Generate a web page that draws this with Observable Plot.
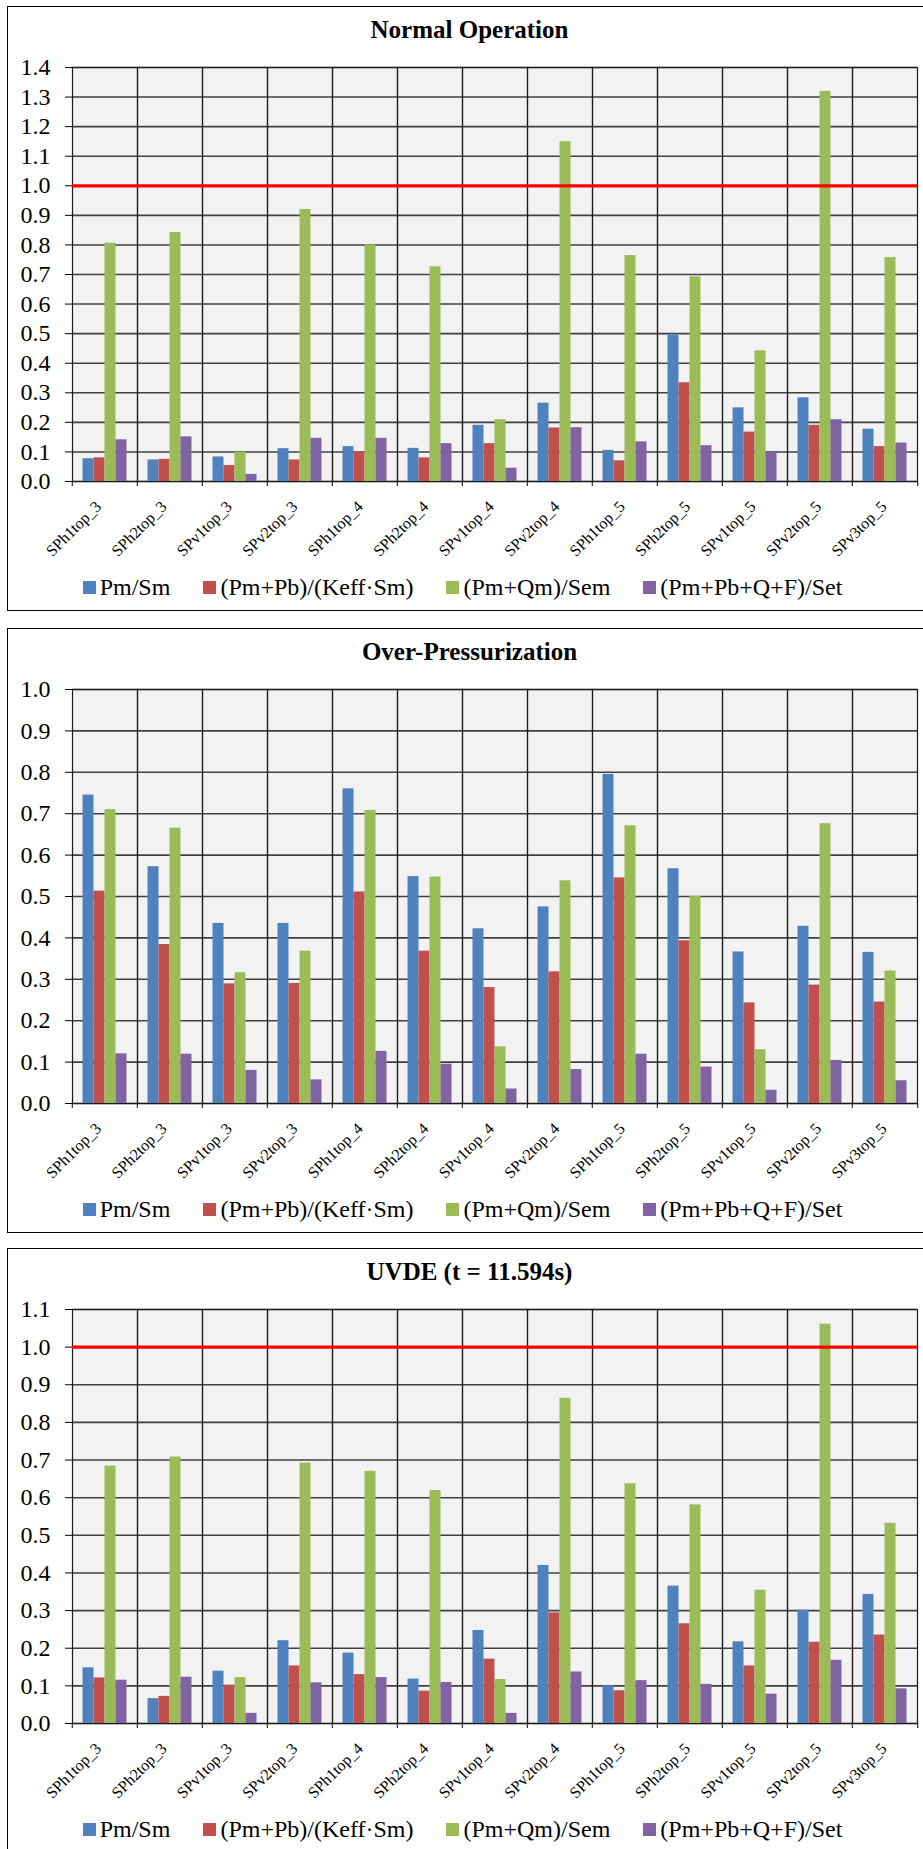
<!DOCTYPE html>
<html>
<head>
<meta charset="utf-8">
<script src="https://cdn.jsdelivr.net/npm/d3@7"></script>
<script src="https://cdn.jsdelivr.net/npm/@observablehq/plot@0.6"></script>
<style>
  html, body { margin: 0; padding: 0; background: #fff; overflow: hidden; }
  body { width: 923px; height: 1849px; position: relative; font-family: "Liberation Serif", "Times New Roman", serif; color: #000; }
  .panel { position: absolute; left: 7px; width: 923px; height: 603px; border: 1px solid #000; background: #fff; }
  .title { position: absolute; left: 0; right: 0; top: 10px; text-align: center; font-weight: bold; font-size: 25px; line-height: 25px; }
  .chart { position: absolute; left: 0; top: 34px; }
  .legend { position: absolute; left: 74.7px; top: 568px; display: flex; align-items: center; gap: 33px; font-size: 24px; line-height: 24px; white-space: nowrap; }
  .item { display: flex; align-items: center; }
  .swatch { width: 13px; height: 13px; margin-right: 4px; }
  svg [aria-label^="y-axis"] text { font-size: 24px; }
  svg [aria-label^="fx-axis"] text { font-size: 16px; }
</style>
</head>
<body>
<script>
// Stress locations along the support structure
const categories = [
  "SPh1top_3", "SPh2top_3", "SPv1top_3", "SPv2top_3",
  "SPh1top_4", "SPh2top_4", "SPv1top_4", "SPv2top_4",
  "SPh1top_5", "SPh2top_5", "SPv1top_5", "SPv2top_5", "SPv3top_5"
];

// Stress ratio criteria
const seriesNames = ["Pm/Sm", "(Pm+Pb)/(Keff·Sm)", "(Pm+Qm)/Sem", "(Pm+Pb+Q+F)/Set"];
const seriesColors = ["#4F81BD", "#C0504D", "#9BBB59", "#8064A2"];

// Normal Operation
const normalPmSm     = [0.077, 0.073, 0.083, 0.111, 0.118, 0.112, 0.190, 0.265, 0.105, 0.495, 0.249, 0.283, 0.177];
const normalPmPbKeff = [0.080, 0.075, 0.054, 0.073, 0.100, 0.080, 0.128, 0.181, 0.070, 0.334, 0.167, 0.190, 0.118];
const normalPmQm     = [0.806, 0.842, 0.099, 0.920, 0.800, 0.726, 0.209, 1.149, 0.764, 0.692, 0.442, 1.319, 0.757];
const normalTotal    = [0.141, 0.151, 0.024, 0.146, 0.146, 0.128, 0.045, 0.182, 0.134, 0.121, 0.097, 0.209, 0.130];

// Over-Pressurization
const overPmSm     = [0.745, 0.572, 0.435, 0.435, 0.760, 0.548, 0.422, 0.475, 0.795, 0.567, 0.366, 0.428, 0.365];
const overPmPbKeff = [0.513, 0.384, 0.289, 0.290, 0.511, 0.368, 0.280, 0.318, 0.545, 0.393, 0.243, 0.286, 0.245];
const overPmQm     = [0.710, 0.665, 0.316, 0.368, 0.708, 0.547, 0.137, 0.538, 0.671, 0.500, 0.130, 0.676, 0.320];
const overTotal    = [0.120, 0.119, 0.080, 0.057, 0.126, 0.095, 0.035, 0.082, 0.119, 0.088, 0.032, 0.104, 0.055];

// UVDE (t = 11.594s)
const uvdePmSm     = [0.148, 0.066, 0.139, 0.220, 0.187, 0.118, 0.247, 0.420, 0.100, 0.365, 0.217, 0.301, 0.343];
const uvdePmPbKeff = [0.121, 0.072, 0.102, 0.153, 0.130, 0.086, 0.171, 0.294, 0.087, 0.265, 0.153, 0.216, 0.235];
const uvdePmQm     = [0.684, 0.708, 0.122, 0.692, 0.670, 0.619, 0.117, 0.864, 0.637, 0.581, 0.354, 1.061, 0.532];
const uvdeTotal    = [0.115, 0.123, 0.027, 0.108, 0.122, 0.109, 0.027, 0.137, 0.114, 0.104, 0.078, 0.168, 0.092];

// Value axis ticks
const ticksNormal = [0.0, 0.1, 0.2, 0.3, 0.4, 0.5, 0.6, 0.7, 0.8, 0.9, 1.0, 1.1, 1.2, 1.3, 1.4];
const ticksOver   = [0.0, 0.1, 0.2, 0.3, 0.4, 0.5, 0.6, 0.7, 0.8, 0.9, 1.0];
const ticksUvde   = [0.0, 0.1, 0.2, 0.3, 0.4, 0.5, 0.6, 0.7, 0.8, 0.9, 1.0, 1.1];

// Allowable ratio
const limitValue = 1.0;

const panels = [
  {title: "Normal Operation", top: 6, series: [normalPmSm, normalPmPbKeff, normalPmQm, normalTotal], ticks: ticksNormal, limit: true},
  {title: "Over-Pressurization", top: 628, series: [overPmSm, overPmPbKeff, overPmQm, overTotal], ticks: ticksOver, limit: false},
  {title: "UVDE (t = 11.594s)", top: 1248, series: [uvdePmSm, uvdePmPbKeff, uvdePmQm, uvdeTotal], ticks: ticksUvde, limit: true}
];

const W = 923, H = 530, mTop = 26, mBottom = 90, mLeft = 60.5, mRight = 11.5;
const bandW = (W - mLeft - mRight) / categories.length;

// Shift an svg element by a screen-space offset, whatever transforms its parents carry
function nudge(el, dx, dy) {
  const m = el.parentNode.getScreenCTM();
  let lx = dx, ly = dy;
  if (m) {
    const inv = m.inverse();
    lx = inv.a * dx + inv.c * dy;
    ly = inv.b * dx + inv.d * dy;
  }
  const prev = el.getAttribute("transform") || "";
  el.setAttribute("transform", `translate(${lx},${ly}) ${prev}`);
}

for (const p of panels) {
  const panel = document.createElement("div");
  panel.className = "panel";
  panel.style.top = p.top + "px";
  document.body.appendChild(panel);

  const title = document.createElement("div");
  title.className = "title";
  title.textContent = p.title;
  panel.appendChild(title);

  const rows = [];
  categories.forEach((cat, i) => {
    seriesNames.forEach((s, j) => rows.push({cat, series: s, value: p.series[j][i]}));
  });

  const yMax = p.ticks[p.ticks.length - 1];

  const chart = Plot.plot({
    width: W,
    height: H,
    marginTop: mTop,
    marginBottom: mBottom,
    marginLeft: mLeft,
    marginRight: mRight,
    style: {background: "transparent", fontFamily: "'Liberation Serif', 'Times New Roman', serif", fontSize: "16px", color: "#000", overflow: "visible"},
    facet: {data: rows, x: "cat"},
    fx: {domain: categories, padding: 0, label: null, tickSize: 5, tickPadding: 8, tickRotate: -45},
    x: {domain: seriesNames, paddingInner: 0, paddingOuter: 0.75, axis: null},
    y: {domain: [0, yMax], ticks: p.ticks, tickFormat: d3.format(".1f"), tickSize: 7, tickPadding: 15, label: null},
    color: {domain: seriesNames, range: seriesColors},
    marks: [
      Plot.frame({fill: "#f2f2f2", stroke: null}),
      Plot.ruleY(p.ticks, {stroke: "#404040", strokeWidth: 1.6}),
      Plot.frame({stroke: "#1a1a1a", strokeWidth: 1.2}),
      Plot.barY(rows, {x: "series", y: "value", fill: "series", inset: 0}),
      p.limit ? Plot.ruleY([limitValue], {stroke: "#ff0000", strokeWidth: 3.3}) : null
    ].filter(Boolean)
  });
  chart.classList.add("chart");
  panel.appendChild(chart);

  // Category tick marks sit on the boundaries between categories
  let tickEls = Array.from(chart.querySelectorAll('[aria-label="fx-axis tick"] path'));
  if (!tickEls.length) tickEls = Array.from(chart.querySelectorAll('[aria-label="fx-axis"] .tick line'));
  tickEls.forEach((el, i) => {
    if (i === tickEls.length - 1) {
      const end = el.cloneNode(true);
      el.parentNode.appendChild(end);
      nudge(end, bandW / 2, 0);
    }
    nudge(el, -bandW / 2, 0);
  });

  // Slanted category labels end just under the middle of their category
  const svgBox = chart.getBoundingClientRect();
  const axisY = H - mBottom;
  const labelEls = Array.from(chart.querySelectorAll("text")).filter(t => categories.includes(t.textContent.trim()));
  labelEls.forEach(el => {
    const i = categories.indexOf(el.textContent.trim());
    const box = el.getBoundingClientRect();
    const right = box.right - svgBox.left;
    const top = box.top - svgBox.top;
    const center = mLeft + (i + 0.5) * bandW;
    nudge(el, center + 3.7 - right, axisY + 16.6 - top);
  });

  const legend = document.createElement("div");
  legend.className = "legend";
  seriesNames.forEach((s, j) => {
    const item = document.createElement("div");
    item.className = "item";
    const sw = document.createElement("span");
    sw.className = "swatch";
    sw.style.background = seriesColors[j];
    const label = document.createElement("span");
    label.textContent = s;
    item.appendChild(sw);
    item.appendChild(label);
    legend.appendChild(item);
  });
  panel.appendChild(legend);
}
</script>
</body>
</html>
